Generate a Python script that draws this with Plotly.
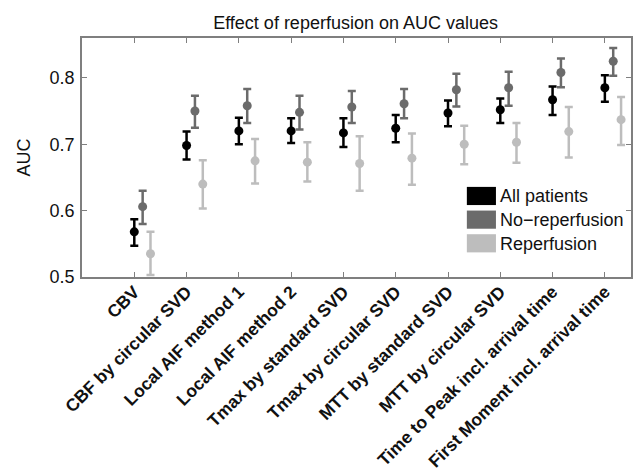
import plotly.graph_objects as go

categories = ["CBV", "CBF by circular SVD", "Local AIF method 1", "Local AIF method 2",
              "Tmax by standard SVD", "Tmax by circular SVD", "MTT by standard SVD",
              "MTT by circular SVD", "Time to Peak incl. arrival time",
              "First Moment incl. arrival time"]

series_names = ["All patients", "No\u2212reperfusion", "Reperfusion"]
series_colors = ["#000000", "#6b6b6b", "#bdbdbd"]
series_offsets = [0.0, 0.16, 0.31]

all_auc = [0.568, 0.698, 0.720, 0.720, 0.717, 0.724, 0.747, 0.752, 0.767, 0.785]
all_hi = [0.587, 0.719, 0.740, 0.739, 0.739, 0.744, 0.766, 0.769, 0.787, 0.804]
all_lo = [0.547, 0.677, 0.700, 0.702, 0.696, 0.703, 0.727, 0.732, 0.744, 0.764]

norep_auc = [0.606, 0.750, 0.758, 0.748, 0.756, 0.761, 0.782, 0.785, 0.808, 0.825]
norep_hi = [0.630, 0.773, 0.783, 0.773, 0.780, 0.783, 0.806, 0.809, 0.829, 0.845]
norep_lo = [0.580, 0.725, 0.732, 0.722, 0.732, 0.739, 0.757, 0.758, 0.786, 0.803]

rep_auc = [0.535, 0.640, 0.675, 0.673, 0.671, 0.679, 0.700, 0.703, 0.719, 0.737]
rep_hi = [0.568, 0.676, 0.708, 0.703, 0.712, 0.716, 0.728, 0.732, 0.756, 0.771]
rep_lo = [0.503, 0.603, 0.641, 0.644, 0.630, 0.639, 0.670, 0.672, 0.680, 0.699]

y_ticks = [0.5, 0.6, 0.7, 0.8]

FONT = "Liberation Sans, Arial, sans-serif"
FS = 18
fig = go.Figure()

data = [(all_auc, all_hi, all_lo), (norep_auc, norep_hi, norep_lo), (rep_auc, rep_hi, rep_lo)]
for name, color, off, (vals, hi, lo) in zip(series_names, series_colors, series_offsets, data):
    xs = [i + 1 + off for i in range(len(categories))]
    fig.add_trace(go.Scatter(
        x=xs, y=vals, mode="markers", name=name, showlegend=False,
        marker=dict(color=color, size=9),
        error_y=dict(type="data", symmetric=False,
                     array=[h - v for h, v in zip(hi, vals)],
                     arrayminus=[v - l for v, l in zip(vals, lo)],
                     color=color, thickness=2.5, width=4),
    ))

# legend drawn as boxes + text
for k, (name, color) in enumerate(zip(series_names, series_colors)):
    y_top = 0.377 - k * 0.099
    fig.add_shape(type="rect", xref="paper", yref="paper",
                  x0=0.701, x1=0.754, y0=y_top - 0.076, y1=y_top,
                  fillcolor=color, line=dict(width=0))
    fig.add_annotation(xref="paper", yref="paper", x=0.757, y=y_top - 0.040,
                       text=name, showarrow=False, xanchor="left", yanchor="middle",
                       font=dict(family=FONT, size=FS, color="#111"))

fig.update_layout(
    width=635, height=473,
    margin=dict(l=82, r=4, t=38, b=196),
    paper_bgcolor="white", plot_bgcolor="white",
    title=dict(text="Effect of reperfusion on AUC values", x=0.56, xanchor="center",
               y=0.953, yanchor="middle", font=dict(family=FONT, size=FS, color="#111")),
    font=dict(family=FONT, size=FS, color="#111"),
)
fig.update_xaxes(
    range=[0, 10.5], tickvals=list(range(1, len(categories) + 1)),
    ticktext=["<b>%s</b>" % c for c in categories], tickangle=-45,
    showgrid=False, zeroline=False, showline=True, linecolor="#7f7f7f", linewidth=1.5,
    mirror="ticks", ticks="inside", ticklen=5, tickcolor="#7f7f7f",
    tickfont=dict(family=FONT, size=17.5, color="#111"), ticklabelstandoff=-4,
    automargin=False,
)
fig.update_yaxes(
    range=[0.5, 0.86], tickvals=y_ticks, ticktext=["%.1f" % t for t in y_ticks],
    showgrid=False, zeroline=False, showline=True, linecolor="#7f7f7f", linewidth=1.5,
    mirror="ticks", ticks="inside", ticklen=5, tickcolor="#7f7f7f",
    tickfont=dict(family=FONT, size=FS, color="#111"), ticklabelstandoff=2,
    title=dict(text="AUC", font=dict(family=FONT, size=FS, color="#111"), standoff=14),
    automargin=False,
)

fig.write_html("out.html")
